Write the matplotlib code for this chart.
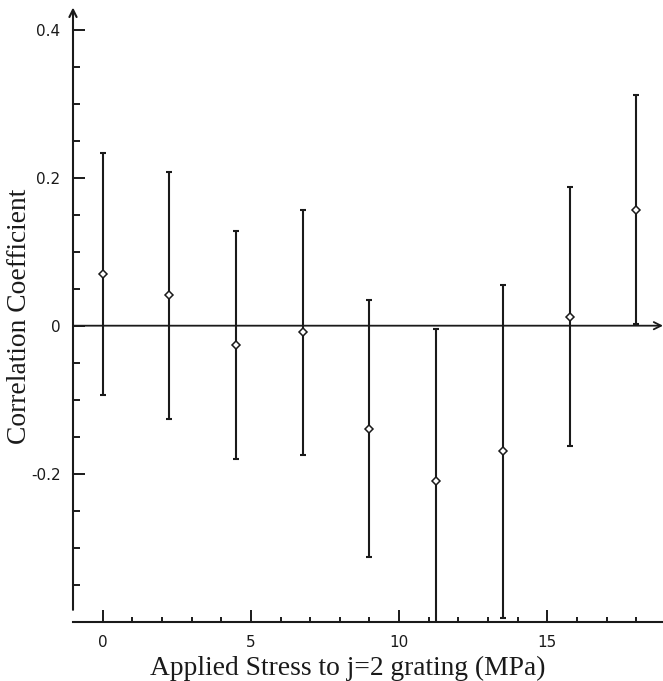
"""Correlation coefficient against applied stress, with error bars."""

import matplotlib
matplotlib.use("Agg")
import matplotlib.pyplot as plt
from matplotlib.ticker import FixedLocator, FixedFormatter

# stress applied to the j=2 grating (MPa)
stress = [0, 2.25, 4.5, 6.75, 9, 11.25, 13.5, 15.75, 18]
# correlation coefficient and its uncertainty
corr = [0.070, 0.041, -0.026, -0.009, -0.139, -0.210, -0.170, 0.012, 0.157]
corr_err = [0.164, 0.167, 0.154, 0.166, 0.174, 0.205, 0.225, 0.175, 0.155]

x_major = [0, 5, 10, 15]
x_minor = [1, 2, 3, 4, 6, 7, 8, 9, 11, 12, 13, 14, 16, 17, 18]
y_major = [0.4, 0.2, 0.0, -0.2]
y_major_labels = ["0.4", "0.2", "0", "-0.2"]
y_minor = [0.35, 0.3, 0.25, 0.15, 0.1, 0.05, -0.05, -0.1, -0.15, -0.25, -0.3, -0.35]

INK = "#1a1a1a"
XMIN, XMAX = -1.0, 18.9
YMIN, YMAX = -0.4, 0.43

fig = plt.figure(figsize=(6.63, 6.81), dpi=100)
ax = fig.add_axes([73 / 663, 0.0871, 590 / 663, 0.9019])

ax.errorbar(stress, corr, yerr=corr_err, fmt="none", ecolor=INK,
            elinewidth=1.5, capsize=2.3, capthick=1.5, zorder=3)
ax.plot(stress, corr, linestyle="none", marker="D", markersize=4.0,
        markerfacecolor="white", markeredgecolor=INK, markeredgewidth=1.1,
        zorder=4)

ax.set_xlim(XMIN, XMAX)
ax.set_ylim(YMIN, YMAX)

# axes drawn by hand: arrowed y axis and arrowed zero line
for side in ("left", "top", "right"):
    ax.spines[side].set_visible(False)
ax.spines["bottom"].set_linewidth(1.5)
ax.spines["bottom"].set_color(INK)

arrow = dict(arrowstyle="->", lw=1.5, color=INK, shrinkA=0, shrinkB=0,
             mutation_scale=13)
ax.annotate("", xy=(XMIN, YMAX), xytext=(XMIN, -0.384),
            arrowprops=arrow, annotation_clip=False)
ax.annotate("", xy=(XMAX, 0), xytext=(XMIN, 0),
            arrowprops=dict(arrow, lw=1.3), annotation_clip=False)

ax.xaxis.set_major_locator(FixedLocator(x_major))
ax.xaxis.set_minor_locator(FixedLocator(x_minor))
ax.yaxis.set_major_locator(FixedLocator(y_major))
ax.yaxis.set_major_formatter(FixedFormatter(y_major_labels))
ax.yaxis.set_minor_locator(FixedLocator(y_minor))

ax.tick_params(axis="both", which="both", direction="in", color=INK,
               labelcolor=INK, width=1.4, top=False, right=False)
ax.tick_params(axis="x", which="major", length=8.8, pad=9.5, labelsize=11)
ax.tick_params(axis="x", which="minor", length=3.6)
ax.tick_params(axis="y", which="major", length=8.8, pad=9, labelsize=11)
ax.tick_params(axis="y", which="minor", length=4.8)
for lab in ax.get_xticklabels() + ax.get_yticklabels():
    lab.set_family("DejaVu Sans")

fig.text(348 / 663, 6 / 681, "Applied Stress to j=2 grating (MPa)",
         family="Liberation Serif", fontsize=19.8, color=INK,
         ha="center", va="baseline")
fig.text(20 / 663, 1 - 316 / 681, "Correlation Coefficient",
         family="Liberation Serif", fontsize=19.8, color=INK,
         rotation=90, ha="center", va="center")

fig.savefig("out.png", dpi=100)
